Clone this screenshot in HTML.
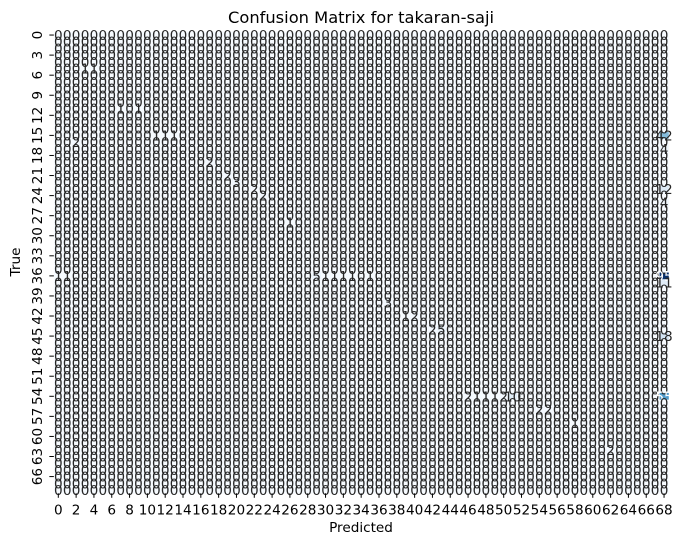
<!DOCTYPE html>
<html><head><meta charset="utf-8"><style>
body{margin:0;background:#fff;}
svg text{font-family:"DejaVu Sans","Liberation Sans",sans-serif;}
</style></head><body>
<svg id="chart" width="687" height="547" xmlns="http://www.w3.org/2000/svg">
<text x="361" y="23" font-size="16.3" text-anchor="middle" fill="#000">Confusion Matrix for takaran-saji</text>
<text x="361" y="532" font-size="13.6" text-anchor="middle" fill="#000">Predicted</text>
<text x="20" y="262" font-size="13.6" text-anchor="middle" fill="#000" transform="rotate(-90 20 262)">True</text>
<g id="cells"></g>
<g id="ticks"></g>
</svg>
<script>
const nClasses = 69;
const nzRows = [5,5,11,11,15,15,15,15,16,19,21,22,23,23,24,25,17,28,36,36,36,36,36,36,36,36,36,37,40,42,42,44,44,45,54,54,54,54,54,54,54,56,56,58,62];
const nzCols = [3,4,7,9,11,12,13,68,2,17,19,20,22,68,23,68,68,26,0,1,29,30,31,32,33,35,68,68,37,39,40,42,43,68,46,47,48,49,50,51,68,54,55,58,62];
const nzVals = [1,1,1,1,1,1,1,42,2,2,2,3,2,12,2,4,4,1,1,1,5,1,1,1,1,1,95,11,3,1,2,2,5,18,2,1,1,1,2,10,55,2,2,1,2];
const xTickLabels = Array.from({length:35},(_,i)=>String(i*2));
const yTickLabels = Array.from({length:23},(_,i)=>String(i*3));

const X0=53.85, X1=668.5, Y0=31.7, Y1=493.3;
const cw=(X1-X0)/nClasses, ch=(Y1-Y0)/nClasses;
const xPos=c=>X0+c*cw, yPos=r=>Y0+r*ch;
const NS="http://www.w3.org/2000/svg";
const M=[];for(let r=0;r<nClasses;r++){M.push(new Array(nClasses).fill(0));}
for(let i=0;i<nzVals.length;i++){M[nzRows[i]][nzCols[i]]=nzVals[i];}
let vmax=0;M.forEach(r=>r.forEach(v=>{if(v>vmax)vmax=v;}));
const stops=["#f7fbff","#deebf7","#c6dbef","#9ecae1","#6baed6","#4292c6","#2171b5","#08519c","#08306b"].map(h=>[1,3,5].map(i=>parseInt(h.substr(i,2),16)));
function blues(t){t=Math.max(0,Math.min(1,t))*8;const i=Math.min(7,Math.floor(t)),f=t-i;const a=stops[i],b=stops[i+1];return `rgb(${a.map((v,k)=>Math.round(v+(b[k]-v)*f)).join(",")})`;}
const cells=document.getElementById('cells');
for(let r=0;r<nClasses;r++){for(let c=0;c<nClasses;c++){
  const v=M[r][c];
  const rect=document.createElementNS(NS,'rect');
  rect.setAttribute('x',xPos(c));rect.setAttribute('y',yPos(r));
  rect.setAttribute('width',cw+0.3);rect.setAttribute('height',ch+0.3);
  rect.setAttribute('fill',blues(v/vmax));
  
  
  cells.appendChild(rect);
}}
for(let r=0;r<nClasses;r++){for(let c=0;c<nClasses;c++){
  const v=M[r][c];
  const t=document.createElementNS(NS,'text');
  t.setAttribute('x',xPos(c)+cw/2);t.setAttribute('y',yPos(r)+ch/2+5);
  t.setAttribute('font-size','13.6');t.setAttribute('text-anchor','middle');
  t.setAttribute('fill',v/vmax>0.55?'#fff':'#262626');
  t.textContent=String(v);
  
  
  cells.appendChild(t);
}}
const ticks=document.getElementById('ticks');
xTickLabels.forEach(l=>{
  const c=+l,x=xPos(c)+cw/2;
  const ln=document.createElementNS(NS,'line');
  ln.setAttribute('x1',x);ln.setAttribute('x2',x);ln.setAttribute('y1',Y1);ln.setAttribute('y2',Y1+4.5);ln.setAttribute('stroke','#000');ln.setAttribute('stroke-width','1');
  
  
  ticks.appendChild(ln);
  const t=document.createElementNS(NS,'text');
  t.setAttribute('x',x);t.setAttribute('y',Y1+21);t.setAttribute('font-size','13.6');t.setAttribute('text-anchor','middle');t.textContent=l;
  
  
  ticks.appendChild(t);
});
yTickLabels.forEach(l=>{
  const r=+l,y=yPos(r)+ch/2;
  const ln=document.createElementNS(NS,'line');
  ln.setAttribute('x1',X0-4.5);ln.setAttribute('x2',X0);ln.setAttribute('y1',y);ln.setAttribute('y2',y);ln.setAttribute('stroke','#000');ln.setAttribute('stroke-width','1');
  
  
  ticks.appendChild(ln);
  const t=document.createElementNS(NS,'text');
  const tx=X0-16;
  t.setAttribute('x',tx);t.setAttribute('y',y);t.setAttribute('font-size','13.6');t.setAttribute('text-anchor','middle');t.setAttribute('dominant-baseline','central');
  t.setAttribute('transform',`rotate(-90 ${tx} ${y})`);t.textContent=l;
  
  
  ticks.appendChild(t);
});
</script>
</body></html>
